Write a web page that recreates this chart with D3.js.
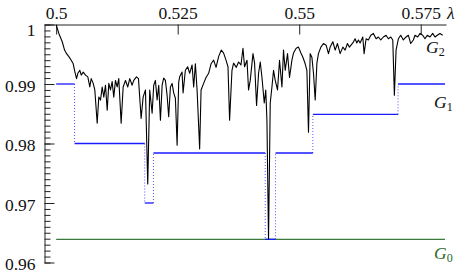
<!DOCTYPE html>
<html>
<head>
<meta charset="utf-8">
<script src="https://cdn.jsdelivr.net/npm/d3@7"></script>
<style>
  body { margin: 0; background: #fff; font-family: 'Liberation Serif'; }
</style>
</head>
<body>
<div id="chart"></div>
<script>
// spectrum G2: wavelength (µm) and relative value
const lam = [
  0.50002,0.50055,0.50125,0.50173,0.50214,0.50261,0.50310,0.50351,0.50378,0.50419,
  0.50446,0.50487,0.50516,0.50557,0.50604,0.50651,0.50692,0.50721,0.50762,0.50795,
  0.50844,0.50877,0.50912,0.50947,0.50980,0.51015,0.51050,0.51083,0.51117,0.51152,
  0.51185,0.51220,0.51255,0.51288,0.51337,0.51378,0.51426,0.51473,0.51514,0.51563,
  0.51596,0.51652,0.51693,0.51748,0.51789,0.51837,0.51884,0.51925,0.51974,0.52007,
  0.52042,0.52077,0.52110,0.52145,0.52180,0.52212,0.52247,0.52282,0.52315,0.52350,
  0.52385,0.52418,0.52453,0.52488,0.52521,0.52541,0.52590,0.52611,0.52658,0.52705,
  0.52747,0.52796,0.52829,0.52864,0.52899,0.52952,0.52981,0.53034,0.53083,0.53137,
  0.53186,0.53240,0.53289,0.53342,0.53398,0.53445,0.53494,0.53535,0.53568,0.53617,
  0.53650,0.53706,0.53753,0.53802,0.53843,0.53876,0.53926,0.53958,0.53993,0.54049,
  0.54082,0.54123,0.54164,0.54199,0.54234,0.54281,0.54312,0.54336,0.54369,0.54404,
  0.54439,0.54472,0.54507,0.54554,0.54595,0.54645,0.54677,0.54712,0.54760,0.54801,
  0.54850,0.54883,0.54938,0.54986,0.55035,0.55076,0.55123,0.55158,0.55191,0.55226,
  0.55261,0.55294,0.55329,0.55364,0.55396,0.55446,0.55499,0.55555,0.55602,0.55637,
  0.55692,0.55740,0.55787,0.55842,0.55898,0.55945,0.55992,0.56033,0.56103,0.56150,
  0.56185,0.56218,0.56253,0.56308,0.56335,0.56376,0.56423,0.56473,0.56526,0.56582,
  0.56629,0.56678,0.56732,0.56787,0.56834,0.56884,0.56925,0.56958,0.56993,0.57040,
  0.57089,0.57142,0.57198,0.57245,0.57294,0.57348,0.57383,0.57438,0.57486,0.57541,
  0.57588,0.57635,0.57691,0.57746,0.57794,0.57841,0.57896,0.57952
];
const flux = [
  0.9999,0.9985,0.9971,0.9957,0.9951,0.9946,0.9940,0.9934,0.9923,0.9909,
  0.9918,0.9923,0.9915,0.9920,0.9915,0.9912,0.9895,0.9909,0.9901,0.9890,
  0.9834,0.9878,0.9873,0.9895,0.9878,0.9898,0.9856,0.9901,0.9890,0.9904,
  0.9878,0.9906,0.9895,0.9909,0.9834,0.9895,0.9906,0.9895,0.9909,0.9898,
  0.9906,0.9912,0.9909,0.9842,0.9878,0.9890,0.9732,0.9890,0.9851,0.9898,
  0.9906,0.9873,0.9898,0.9839,0.9898,0.9910,0.9906,0.9881,0.9845,0.9895,
  0.9901,0.9885,0.9876,0.9797,0.9903,0.9912,0.9920,0.9885,0.9923,0.9929,
  0.9918,0.9932,0.9895,0.9934,0.9890,0.9791,0.9890,0.9901,0.9911,0.9918,
  0.9934,0.9940,0.9928,0.9946,0.9957,0.9952,0.9940,0.9929,0.9839,0.9923,
  0.9935,0.9928,0.9937,0.9932,0.9960,0.9929,0.9940,0.9890,0.9906,0.9951,
  0.9935,0.9864,0.9918,0.9937,0.9911,0.9868,0.9890,0.9839,0.9640,0.9868,
  0.9895,0.9923,0.9906,0.9890,0.9940,0.9895,0.9957,0.9923,0.9951,0.9911,
  0.9940,0.9952,0.9960,0.9962,0.9952,0.9945,0.9934,0.9923,0.9819,0.9951,
  0.9945,0.9918,0.9873,0.9935,0.9951,0.9962,0.9968,0.9965,0.9951,0.9962,
  0.9971,0.9957,0.9968,0.9951,0.9962,0.9957,0.9968,0.9962,0.9969,0.9976,
  0.9969,0.9974,0.9969,0.9979,0.9951,0.9976,0.9974,0.9982,0.9985,0.9976,
  0.9979,0.9974,0.9979,0.9982,0.9976,0.9979,0.9974,0.9881,0.9957,0.9976,
  0.9982,0.9974,0.9979,0.9982,0.9968,0.9974,0.9982,0.9979,0.9985,0.9982,
  0.9976,0.9982,0.9979,0.9985,0.9979,0.9982,0.9985,0.9982
];

// G1: piecewise constant
const g1Edges  = [0.5, 0.50378, 0.51822, 0.52001, 0.54301, 0.54513, 0.55281, 0.57034, 0.58];
const g1Levels = [0.99, 0.98, 0.97, 0.9784, 0.9639, 0.9784, 0.9849, 0.99];

// G0: constant
const g0Range = [0.5, 0.58];
const g0Level = 0.9639;

const xTicks = [0.5, 0.525, 0.55, 0.575];
const xTickLabels = ['0.5', '0.525', '0.55', '0.575'];
const yTicks = [0.96, 0.97, 0.98, 0.99, 1];
const yTickLabels = ['0.96', '0.97', '0.98', '0.99', '1'];

const W= 463, H= 273;
const FS= 17.5;
const FONT= 'Liberation Serif';
const BLUE= '#1a1aff', GREEN= '#3b7a3b';

const svg= d3.select('#chart').append('svg')
  .attr('width', W).attr('height', H)
  .attr('font-family', FONT);

const x= d3.scaleLinear().domain([0.4976, 0.5802]).range([44.5, 446]);
const y= d3.scaleLinear().domain([0.96, 1]).range([262.5, 24.5]);

// left axis: minor ticks every 0.001
svg.append('g')
  .attr('transform', `translate(${x.range()[0]},0)`)
  .call(d3.axisLeft(y).tickValues(d3.range(0, 41).map(i => 0.96+i*0.001))
    .tickSize(-6).tickFormat(''))
  .call(g => g.select('.domain').remove())
  .selectAll('line').attr('stroke', '#222');

// left axis: major ticks + labels
const gy= svg.append('g')
  .attr('transform', `translate(${x.range()[0]},0)`)
  .call(d3.axisLeft(y).tickValues(yTicks)
    .tickFormat((d, i) => yTickLabels[i])
    .tickSizeInner(-10).tickSizeOuter(0).tickPadding(9));
gy.attr('font-family', FONT).attr('font-size', FS);
gy.selectAll('path, line').attr('stroke', '#222');
gy.selectAll('text')
  .attr('fill', '#111')
  .attr('dy', d => d === 1 ? '0.62em' : '0.42em');

// top axis
const gx= svg.append('g')
  .attr('transform', `translate(0,${y(1)})`)
  .call(d3.axisTop(x).tickValues(xTicks)
    .tickFormat((d, i) => xTickLabels[i])
    .tickSizeInner(-10).tickSizeOuter(0).tickPadding(6));
gx.attr('font-family', FONT).attr('font-size', FS);
gx.selectAll('path, line').attr('stroke', '#222');
gx.selectAll('text').attr('fill', '#111');

svg.append('text')
  .attr('x', 447).attr('y', y(1)-6)
  .attr('font-size', FS).attr('font-style', 'italic').attr('fill', '#111')
  .text('λ');

// G0
svg.append('line')
  .attr('x1', x(g0Range[0])).attr('x2', x(g0Range[1]))
  .attr('y1', y(g0Level)).attr('y2', y(g0Level))
  .attr('stroke', GREEN).attr('stroke-width', 1.3);

// G1 steps
const g1= svg.append('g');
g1Levels.forEach((v, i) => {
  g1.append('line')
    .attr('x1', x(g1Edges[i])).attr('x2', x(g1Edges[i+1]))
    .attr('y1', y(v)).attr('y2', y(v))
    .attr('stroke', BLUE).attr('stroke-width', 1.3);
  if (i > 0) {
    g1.append('line')
      .attr('x1', x(g1Edges[i])).attr('x2', x(g1Edges[i]))
      .attr('y1', y(g1Levels[i-1])).attr('y2', y(v))
      .attr('stroke', BLUE).attr('stroke-width', 1)
      .attr('stroke-dasharray', '1,2').attr('opacity', 0.75);
  }
});

// G2 spectrum
const line= d3.line().x(d => x(d[0])).y(d => y(d[1]));
svg.append('path')
  .datum(lam.map((l, i) => [l, flux[i]]))
  .attr('d', line)
  .attr('fill', 'none').attr('stroke', '#000')
  .attr('stroke-width', 1.1).attr('stroke-linejoin', 'round');

// series labels
function glabel(xp, yp, sub, color) {
  const t= svg.append('text')
    .attr('x', xp).attr('y', yp)
    .attr('font-size', FS).attr('fill', color);
  t.append('tspan').attr('font-style', 'italic').text('G');
  t.append('tspan').attr('font-size', 12).attr('dy', 3).text(sub);
}
glabel(426, 53, '2', '#111');
glabel(434, 108, '1', '#111');
glabel(434, 259, '0', '#2a6a2a');
</script>
</body>
</html>
